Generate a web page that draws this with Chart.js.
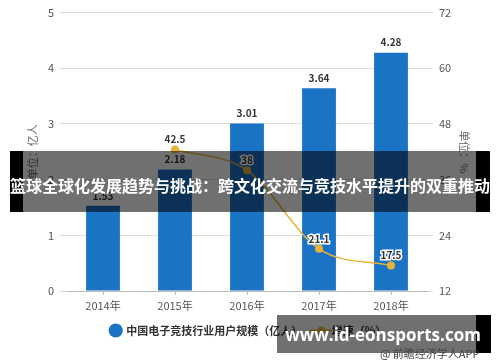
<html>
<head>
<script src="https://cdn.jsdelivr.net/npm/chart.js@4.4.0/dist/chart.umd.min.js"></script>
<style>
  body { margin: 0; background: #fff; }
  #wrap { position: relative; width: 500px; height: 362px; overflow: hidden; }
  .band { position: absolute; background: rgba(0,0,0,0.56); }
  .blk { position: absolute; background: #000; }
  .ttl { position: absolute; color: #fff; font-weight: bold; white-space: nowrap; text-align: center;
         font-family: "Noto Sans CJK SC", sans-serif; }
</style>
</head>
<body>
<div id="wrap">
  <canvas id="myChart" width="500" height="362"></canvas>

  <div class="blk" style="left:10px;top:151px;width:13px;height:61px"></div>
  <div class="band" style="left:23px;top:151px;width:453px;height:61px"></div>
  <div class="blk" style="left:476px;top:151px;width:14px;height:61px"></div>
  <div class="ttl" style="left:0;top:170px;width:500px;font-size:16px;line-height:30px">篮球全球化发展趋势与挑战：跨文化交流与竞技水平提升的双重推动</div>

  <div class="band" style="left:277px;top:315px;width:199px;height:38px"></div>
  <div class="blk" style="left:476px;top:315px;width:15px;height:38px"></div>
  <div class="ttl" style="left:283px;top:321px;width:200px;font-size:17px;line-height:28px;font-family:'Open Sans',sans-serif">www.id-eonsports.com</div>
  <div style="position:absolute;left:380px;top:345px;font-size:11px;color:#444;font-family:'Noto Sans CJK SC',sans-serif">@ 前瞻经济学人APP</div>
</div>

<script>
const years = ["2014年", "2015年", "2016年", "2017年", "2018年"];
const users = [1.53, 2.18, 3.01, 3.64, 4.28];
const growth = [null, 42.5, 38, 21.1, 17.5];
const growthLabels = ["", "42.5", "38", "21.1", "17.5"];

const BLUE = "#1a73c5";
const GOLD = "#e8b33a";
const FONT = "'Noto Sans CJK SC', sans-serif";

// legend marker for the line: short line with a dot
const lineMark = document.createElement("canvas");
lineMark.width = 22; lineMark.height = 10;
(function () {
    const c = lineMark.getContext("2d");
    c.strokeStyle = GOLD; c.lineWidth = 2;
    c.beginPath(); c.moveTo(0, 5); c.lineTo(22, 5); c.stroke();
    c.fillStyle = GOLD;
    c.beginPath(); c.arc(11, 5, 4, 0, Math.PI * 2); c.fill();
})();

const valueLabels = {
    id: "valueLabels",
    afterDatasetsDraw(chart) {
        const ctx = chart.ctx;
        ctx.save();
        ctx.font = "bold 10px " + FONT;
        ctx.textAlign = "center";
        ctx.textBaseline = "middle";
        chart.getDatasetMeta(0).data.forEach((bar, i) => {
            ctx.fillStyle = "#333";
            ctx.fillText(users[i].toFixed(2), bar.x, bar.y - 10);
        });
        chart.getDatasetMeta(1).data.forEach((pt, i) => {
            if (growth[i] === null) return;
            ctx.lineWidth = 3;
            ctx.strokeStyle = "#fff";
            ctx.strokeText(growthLabels[i], pt.x, pt.y - 10);
            ctx.fillStyle = "#333";
            ctx.fillText(growthLabels[i], pt.x, pt.y - 10);
        });
        ctx.restore();
    }
};

Chart.defaults.font.family = FONT;
Chart.defaults.color = "#555";

const ctx = document.getElementById("myChart").getContext("2d");
new Chart(ctx, {
    data: {
        labels: years,
        datasets: [
            {
                type: "bar",
                label: "中国电子竞技行业用户规模（亿人）",
                data: users,
                backgroundColor: BLUE,
                yAxisID: "y",
                barPercentage: 0.94,
                categoryPercentage: 0.5,
                order: 2
            },
            {
                type: "line",
                label: "增速（%）",
                data: growth,
                borderColor: GOLD,
                backgroundColor: GOLD,
                borderWidth: 1.5,
                pointRadius: 4,
                pointStyle: "circle",
                pointBackgroundColor: GOLD,
                pointBorderWidth: 0,
                cubicInterpolationMode: "monotone",
                yAxisID: "y1",
                order: 1
            }
        ]
    },
    options: {
        responsive: false,
        animation: false,
        layout: { padding: { top: 6, bottom: 16, left: 26, right: 29 } },
        plugins: {
            tooltip: { enabled: false },
            legend: {
                position: "bottom",
                labels: {
                    usePointStyle: true,
                    boxWidth: 10,
                    boxHeight: 10,
                    padding: 14,
                    color: "#333",
                    font: { size: 11, weight: "bold" },
                    generateLabels(chart) {
                        const items = Chart.defaults.plugins.legend.labels.generateLabels(chart);
                        items.sort((a, b) => a.datasetIndex - b.datasetIndex);
                        items.forEach(it => {
                            if (it.datasetIndex === 0) {
                                it.pointStyle = "circle";
                                it.fillStyle = BLUE;
                                it.strokeStyle = BLUE;
                            } else {
                                it.pointStyle = lineMark;
                            }
                        });
                        return items;
                    }
                }
            }
        },
        scales: {
            x: {
                grid: { offset: false, drawOnChartArea: false, drawTicks: true, tickLength: 4, color: "#bbb" },
                border: { color: "#bbb" },
                ticks: { color: "#555", font: { size: 11 }, padding: 4 },
                afterFit(s) { s.height = 20; }
            },
            y: {
                position: "left",
                min: 0, max: 5,
                ticks: { stepSize: 1, color: "#555", font: { size: 11 }, padding: 6 },
                grid: { color: "#ddd", tickLength: 7 },
                border: { display: false },
                title: { display: true, text: "单位：亿人", color: "#666", font: { size: 11 }, padding: 0 },
                afterFit(s) { s.width = 41; }
            },
            y1: {
                position: "right",
                min: 12, max: 72,
                ticks: { stepSize: 12, color: "#555", font: { size: 11 }, padding: 6 },
                grid: { drawOnChartArea: false, color: "#ddd", tickLength: 6 },
                border: { display: false },
                title: { display: true, text: "单位：%", color: "#666", font: { size: 11 }, padding: 0 },
                afterFit(s) { s.width = 44; }
            }
        }
    },
    plugins: [valueLabels]
});
</script>
</body>
</html>
